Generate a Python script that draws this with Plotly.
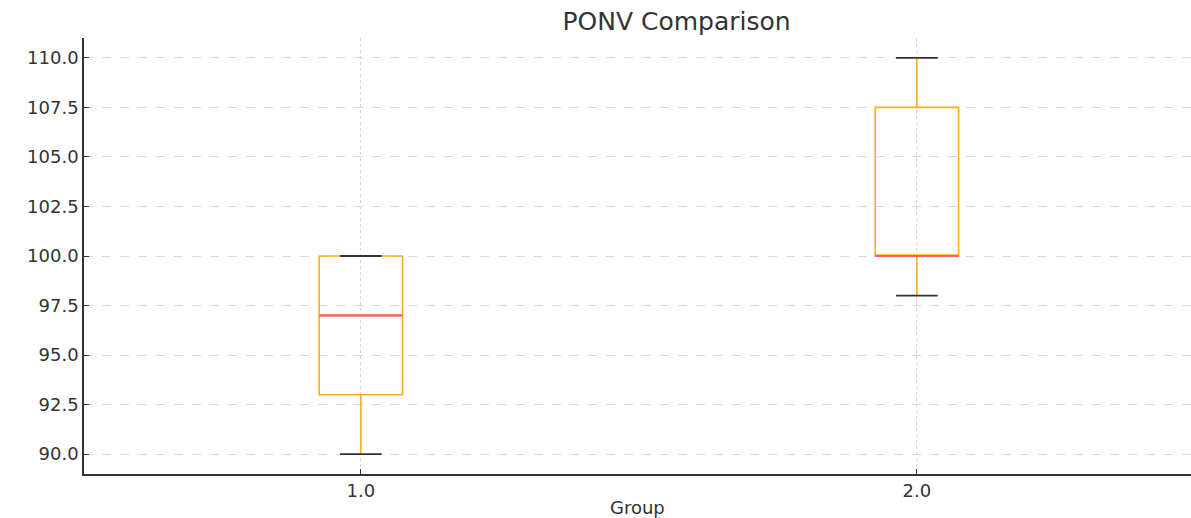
import plotly.graph_objects as go

# Data (box statistics)
groups = [1.0, 2.0]
lower_whisker = [90.0, 98.0]
q1 = [93.0, 100.0]
median = [97.0, 100.0]
q3 = [100.0, 107.5]
upper_whisker = [100.0, 110.0]

box_color = "#FFAE1A"
median_color = "#FF5A6E"
cap_color = "#333333"
box_width = 0.15
cap_half = box_width / 4

fig = go.Figure()

fig.add_trace(go.Box(
    x=groups, q1=q1, median=median, q3=q3,
    lowerfence=lower_whisker, upperfence=upper_whisker,
    width=box_width, whiskerwidth=0,
    line=dict(color=box_color, width=1.6),
    fillcolor="rgba(0,0,0,0)", boxpoints=False, hoverinfo="skip",
    showlegend=False,
))

# median lines
mx, my = [], []
for g, m in zip(groups, median):
    mx += [g - box_width / 2, g + box_width / 2, None]
    my += [m, m, None]
fig.add_trace(go.Scatter(x=mx, y=my, mode="lines",
                         line=dict(color=median_color, width=2.2),
                         showlegend=False, hoverinfo="skip"))

# whisker caps
cx, cy = [], []
for g, lo, hi in zip(groups, lower_whisker, upper_whisker):
    for v in (lo, hi):
        cx += [g - cap_half, g + cap_half, None]
        cy += [v, v, None]
fig.add_trace(go.Scatter(x=cx, y=cy, mode="lines",
                         line=dict(color=cap_color, width=1.8),
                         showlegend=False, hoverinfo="skip"))

font_family = "DejaVu Sans"
W, H = 1191, 518
ml, mr, mt, mb = 84, 0, 38, 44
plot_h = H - mt - mb

fig.update_layout(
    width=W, height=H,
    margin=dict(l=ml, r=mr, t=mt, b=mb, autoexpand=False),
    paper_bgcolor="white", plot_bgcolor="white",
    title=dict(text="PONV Comparison", x=(ml + (W - mr)) / 2 / W, xref="paper",
               xanchor="center", y=1 - 21 / H, yref="container", yanchor="middle",
               font=dict(family=font_family, size=25, color="#333333")),
    font=dict(family=font_family, color="#333333"),
    xaxis=dict(
        range=[0.502, 2.493], tickvals=groups, ticktext=[f"{g:.1f}" for g in groups],
        ticks="inside", ticklen=5, tickcolor="#333333",
        showline=True, linecolor="#333333", linewidth=1.6,
        showgrid=True, gridcolor="#d4d4d4", griddash="dot", gridwidth=1,
        zeroline=False, tickfont=dict(size=18), automargin=False,
    ),
    yaxis=dict(
        range=[89, 111], tick0=90, dtick=2.5, tickformat=".1f",
        ticks="inside", ticklen=5, tickcolor="#333333",
        showline=True, linecolor="#333333", linewidth=1.6,
        showgrid=True, gridcolor="#d9d9d9", griddash="dash", gridwidth=1,
        zeroline=False, tickfont=dict(size=18), automargin=False,
    ),
    annotations=[dict(
        text="Group", xref="paper", yref="paper", x=0.5, y=-33 / plot_h,
        xanchor="center", yanchor="middle", showarrow=False,
        font=dict(family=font_family, size=18, color="#333333"),
    )],
)

fig.write_html("out.html", config={"displayModeBar": False},
               post_script="document.body.style.margin='0';")
